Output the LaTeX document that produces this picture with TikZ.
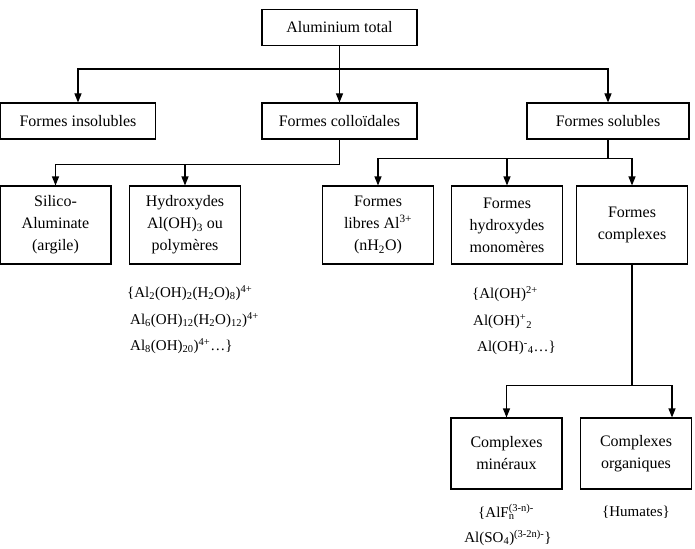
\documentclass[tikz,border=0pt]{standalone}
\usepackage{fontspec}
\setmainfont{Liberation Serif}
\usetikzlibrary{arrows.meta}
\tikzset{
  box/.style={draw,line width=1.1pt,align=center,inner sep=1pt,font=\fontsize{16}{22}\selectfont},
  wide/.style={box,minimum width=155pt,minimum height=36pt},
  tall/.style={box,minimum width=111pt,minimum height=78pt},
  low/.style={box,minimum width=111pt,minimum height=71pt},
  chem/.style={anchor=west,inner sep=0pt,font=\fontsize{15}{20}\selectfont},
  arr/.style={line width=1.1pt,-{Triangle[length=9pt,width=7pt]}}
}
\begin{document}
\begin{tikzpicture}[x=1pt,y=-1pt]
\useasboundingbox (0,0) rectangle (695,548);
\node[wide] (total) at (339.5,27.5) {Aluminium total};
\node[wide] (insol) at (78,121) {Formes insolubles};
\node[wide] (coll) at (339.5,121) {Formes colloïdales};
\node[wide,minimum width=162pt] (solub) at (608,121) {Formes solubles};
\node[tall] (silico) at (55.5,225) {Silico-\\Aluminate\\(argile)};
\node[tall] (hydrox) at (185,225) {Hydroxydes\\Al(OH)\textsubscript{3} ou\\polymères};
\node[tall] (libres) at (378,225) {Formes\\libres Al\textsuperscript{3+}\\(nH\textsubscript{2}O)};
\node[tall] (monom) at (507,225) {Formes\\hydroxydes\\monomères};
\node[tall] (cplx) at (632,225) {Formes\\complexes};
\node[low] (miner) at (506.5,453.5) {Complexes\\minéraux};
\node[low] (organ) at (636,453.5) {Complexes\\organiques};

\draw[arr] (total) -- (coll);
\draw[arr] (total.south) -- ++(0,23) -| (insol.north);
\draw[arr] (total.south) -- ++(0,23) -| (solub.north);
\draw[arr] (coll.south) -- ++(0,25) -| (silico.north);
\draw[arr] (coll.south) -- ++(0,25) -| (hydrox.north);
\draw[arr] (solub.south) -- ++(0,19) -| (libres.north);
\draw[arr] (solub.south) -- ++(0,19) -| (monom.north);
\draw[arr] (solub.south) -- ++(0,19) -| (cplx.north);
\draw[arr] (cplx.south) -- ++(0,121) -| (miner.north);
\draw[arr] (cplx.south) -- ++(0,121) -| ([xshift=36pt]organ.north);

\node[chem] (hyd1) at (127,293) {\{Al\textsubscript{2}(OH)\textsubscript{2}(H\textsubscript{2}O)\textsubscript{8})\textsuperscript{4+}};
\node[chem] (hyd2) at (130,320) {Al\textsubscript{6}(OH)\textsubscript{12}(H\textsubscript{2}O)\textsubscript{12})\textsuperscript{4+}};
\node[chem] (hyd3) at (130,346) {Al\textsubscript{8}(OH)\textsubscript{20})\textsuperscript{4+}…\}};
\node[chem] (mono1) at (472,294) {\{Al(OH)\textsuperscript{2+}};
\node[chem] (mono2) at (473,322) {Al(OH)\textsuperscript{+}\textsubscript{2}};
\node[chem] (mono3) at (477,348) {Al(OH)\textsuperscript{-}\textsubscript{4}…\}};
\node[chem,anchor=center] (min1) at (506,512) {\{AlF\rlap{\textsubscript{n}}\textsuperscript{(3-n)-}};
\node[chem,anchor=center] (min2) at (508,538) {Al(SO\textsubscript{4})\textsuperscript{(3-2n)-}\}};
\node[chem,anchor=center] (hum) at (636,512) {\{Humates\}};
\end{tikzpicture}
\end{document}
